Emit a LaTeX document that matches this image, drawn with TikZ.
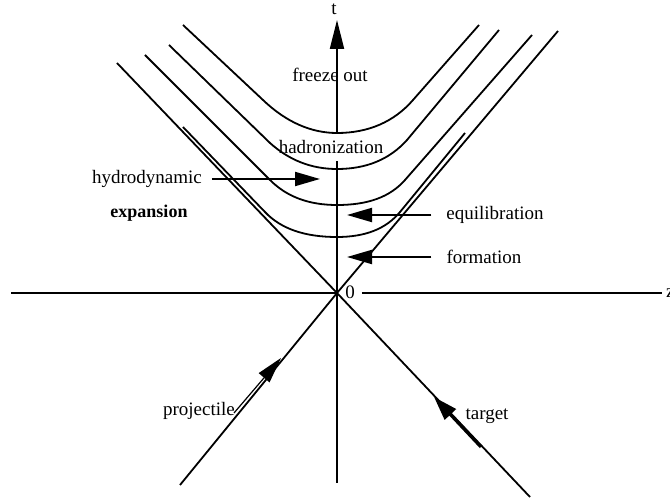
\documentclass[tikz,border=0pt]{standalone}
\usepackage{fontspec}
\setmainfont{Liberation Serif}
\usepackage{tikz}
\usetikzlibrary{arrows.meta, calc}
\tikzstyle{axisline} = [line width=1pt]
\tikzstyle{coneline} = [line width=0.9pt]
\tikzstyle{isocurve} = [line width=0.9pt]
\tikzstyle{lbl} = [font=\fontsize{9.5}{11}\selectfont]
\tikzstyle{lblarrow} = [-{Triangle[length=12.5pt,width=7pt]}, line width=1pt]

\begin{document}
\begin{tikzpicture}[x=0.5pt, y=-0.5pt]
  \useasboundingbox (0,0) rectangle (670,502);

  \coordinate (O) at (337,293);
  \coordinate (v1) at (337,133);
  \coordinate (v2) at (337,169);
  \coordinate (v3) at (337,205);
  \coordinate (v4) at (337,237);

  \node[lbl] (tlab) at (334,9) {t};
  \node[lbl, anchor=west] (zlab) at (659,293) {z};
  \node[lbl] (zero) at (350,292) {0};
  \node[lbl] (freeze) at (330,75) {freeze out};
  \node[lbl] (hadron) at (331,147) {hadronization};
  \node[lbl] (hydro) at (147,179) {hydrodynamic};
  \node[font=\fontsize{9}{11}\selectfont\bfseries] (expan) at (149,213) {expansion};
  \node[lbl] (equil) at (495,215) {equilibration};
  \node[lbl] (form) at (484,257) {formation};
  \node[lbl] (proj) at (199,411) {projectile};
  \node[lbl] (targ) at (487,416) {target};

  \coordinate (zleft) at (11,293);
  \coordinate (zright) at (662,293);
  \coordinate (tbot) at (337,483);
  \coordinate (ttip) at (337,20);
  \draw[axisline] (zleft) -- (zero.west |- O);
  \draw[axisline] (zero.east |- O) -- (zright);
  \draw[axisline] (tbot) -- (hadron.south -| O);
  \draw[axisline, -{Triangle[length=14.5pt,width=7pt]}] (v1) -- (ttip);

  \coordinate (lu) at (117,63);
  \coordinate (rd) at (530,497);
  \coordinate (ru) at (558,31);
  \coordinate (ld) at (180,485);
  \draw[coneline] (lu) -- (O) -- (rd);
  \draw[coneline] (ru) -- (O) -- (ld);

  \draw[isocurve] (183,25) -- (263,100) .. controls (286,122) and (311,133) .. (v1)
    .. controls (368,133) and (394,122) .. (413,100) -- (479,25);
  \draw[isocurve] (169,45) -- (270,143) .. controls (289,160) and (311,169) .. (v2)
    .. controls (367,169) and (390,159) .. (407,140) -- (499,30);
  \draw[isocurve] (145,55) -- (270,180) .. controls (287,197) and (309,205) .. (v3)
    .. controls (368,205) and (390,197) .. (405,180) -- (532,35);
  \draw[isocurve] (183,127) -- (265,212) .. controls (281,229) and (305,237) .. (v4)
    .. controls (365,237) and (386,229) .. (400,212) -- (465,133);

  \coordinate (hydtip) at (320,179);
  \coordinate (equtip) at (347,215);
  \coordinate (fortip) at (347,257);
  \draw[lblarrow] ([xshift=1.5pt]hydro.east) -- (hydtip);
  \draw[lblarrow] ([xshift=-4pt]equil.west) -- (equtip);
  \draw[lblarrow] ([xshift=-4pt]form.west) -- (fortip);

  \coordinate (projtail) at (234,413);
  \coordinate (projtip) at (281,358);
  \coordinate (targtail) at (481,447);
  \coordinate (targtip) at (434,397);
  \draw[-{Triangle[length=13pt,width=7pt]}, line width=0.6pt] (projtail) -- (projtip);
  \draw[-{Triangle[length=12pt,width=7.5pt]}, line width=1.6pt] (targtail) -- (targtip);

\end{tikzpicture}
\end{document}
